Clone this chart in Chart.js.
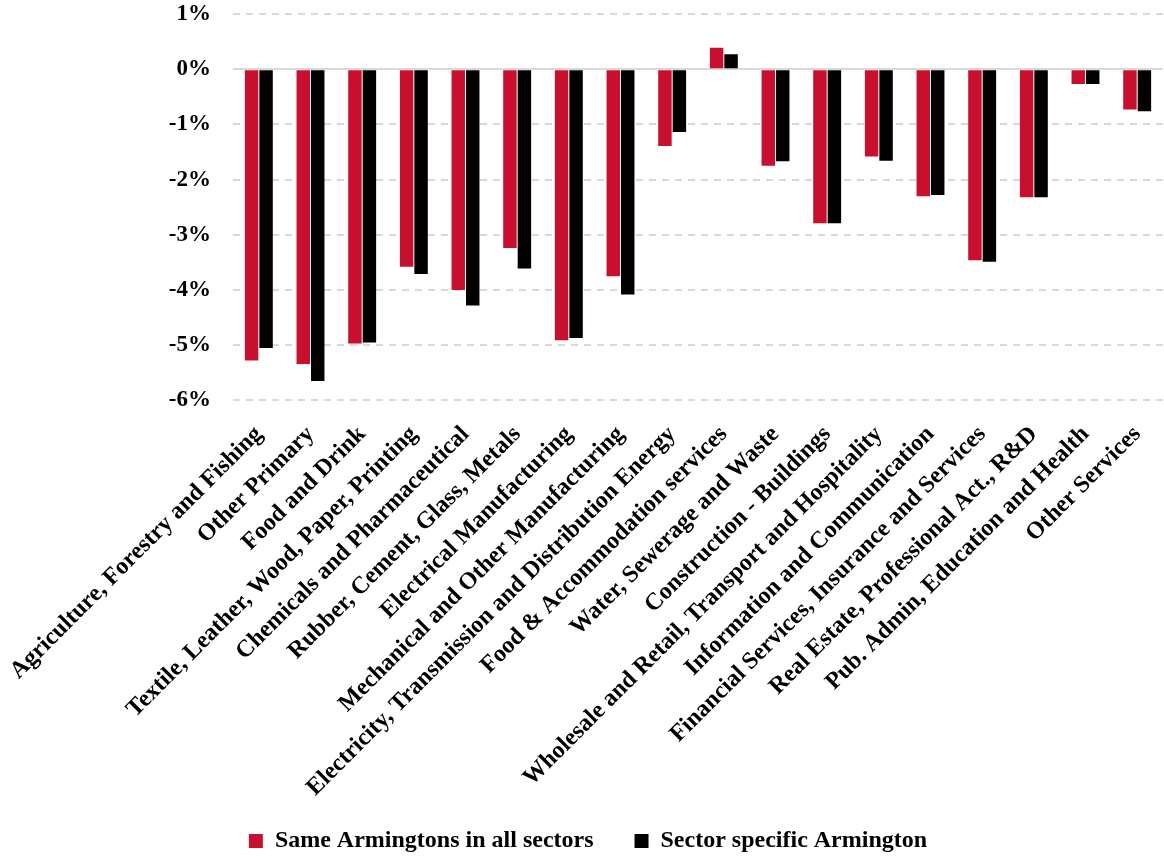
<!DOCTYPE html>
<html>
<head>
<meta charset="utf-8">
<script src="https://cdn.jsdelivr.net/npm/chart.js@4"></script>
<style>
  html, body { margin: 0; padding: 0; background: #ffffff; }
  #wrap { width: 1164px; height: 856px; position: relative; }
</style>
</head>
<body>
<div id="wrap"><canvas id="c" width="1164" height="856"></canvas></div>
<script>
const categories = [
  "Agriculture, Forestry and Fishing",
  "Other Primary",
  "Food and Drink",
  "Textile, Leather, Wood, Paper, Printing",
  "Chemicals and Pharmaceutical",
  "Rubber, Cement, Glass, Metals",
  "Electrical Manufacturing",
  "Mechanical and Other Manufacturing",
  "Electricity, Transmission and Distribution Energy",
  "Food & Accommodation services",
  "Water, Sewerage and Waste",
  "Construction - Buildings",
  "Wholesale and Retail, Transport and Hospitality",
  "Information and Communication",
  "Financial Services, Insurance and Services",
  "Real Estate, Professional Act., R&D",
  "Pub. Admin, Education and Health",
  "Other Services"
];
const seriesNames = ["Same Armingtons in all sectors", "Sector specific Armington"];
const sameArmington = [-5.28, -5.34, -4.97, -3.58, -4.00, -3.24, -4.91, -3.75, -1.39, 0.39, -1.75, -2.79, -1.58, -2.30, -3.46, -2.32, -0.27, -0.73];
const sectorArmington = [-5.05, -5.65, -4.95, -3.71, -4.28, -3.61, -4.87, -4.08, -1.14, 0.27, -1.67, -2.79, -1.66, -2.28, -3.49, -2.32, -0.27, -0.76];
const yTicks = [1, 0, -1, -2, -3, -4, -5, -6];

const FONT = "'Liberation Serif', 'Times New Roman', serif";

function draw() {
  new Chart(document.getElementById('c'), {
    type: 'bar',
    data: {
      labels: categories,
      datasets: [
        { label: seriesNames[0], data: sameArmington, backgroundColor: '#C8102E', borderWidth: 0,
          categoryPercentage: 0.56, barPercentage: 0.93 },
        { label: seriesNames[1], data: sectorArmington, backgroundColor: '#000000', borderWidth: 0,
          categoryPercentage: 0.56, barPercentage: 0.93 }
      ]
    },
    options: {
      responsive: false,
      animation: false,
      layout: { padding: { top: 14, right: 1, bottom: -7, left: 13 } },
      plugins: {
        tooltip: { enabled: false },
        legend: {
          position: 'bottom',
          labels: {
            font: { family: FONT, size: 24, weight: 'bold', lineHeight: 1 },
            color: '#000',
            boxWidth: 14,
            boxHeight: 14,
            padding: 5,
            generateLabels: (chart) => {
              const items = Chart.defaults.plugins.legend.labels.generateLabels(chart);
              items.forEach((it, i) => { if (i < items.length - 1) it.text = it.text + '\u2002\u2002\u2002'; });
              return items;
            }
          }
        }
      },
      scales: {
        x: {
          grid: { display: false, drawTicks: true, tickLength: 20 },
          border: { display: false },
          afterFit: (scale) => { scale.height += 22; },
          ticks: {
            autoSkip: false,
            minRotation: 45,
            maxRotation: 45,
            padding: 0,
            labelOffset: 0,
            color: '#000',
            font: { family: FONT, size: 24, weight: 'bold' }
          }
        },
        y: {
          min: -6,
          max: 1,
          afterBuildTicks: (axis) => { axis.ticks = yTicks.map(v => ({ value: v })); },
          afterFit: (scale) => { scale.width = 220; },
          grid: {
            drawTicks: true,
            tickLength: 22,
            tickColor: 'rgba(0,0,0,0)',
            color: '#d9d9d9',
            lineWidth: 2
          },
          border: {
            display: false,
            dash: (ctx) => (ctx.tick && ctx.tick.value === 0) ? [] : [7, 6]
          },
          ticks: {
            padding: 0,
            color: '#000',
            font: { family: FONT, size: 23, weight: 'bold' },
            callback: (v) => v + '%'
          }
        }
      }
    }
  });
}

if (document.fonts && document.fonts.load) {
  Promise.all([
    document.fonts.load("bold 24px 'Liberation Serif'"),
    document.fonts.load("bold 23px 'Liberation Serif'")
  ]).then(draw, draw);
} else {
  draw();
}
</script>
</body>
</html>
